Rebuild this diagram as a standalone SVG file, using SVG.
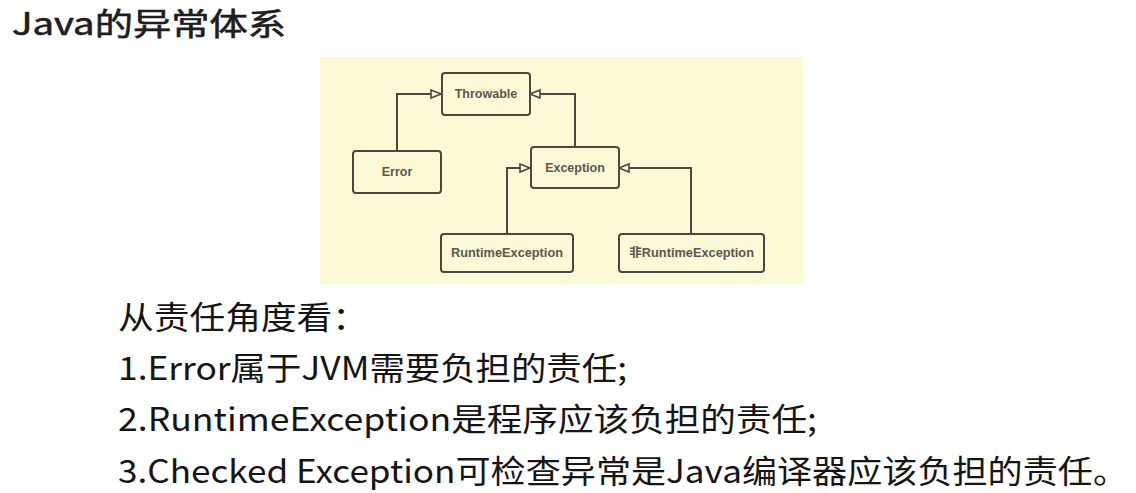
<svg xmlns="http://www.w3.org/2000/svg" width="1136" height="493" viewBox="0 0 1136 493">
<style>
.title{font-family:"Noto Sans CJK SC","Noto Sans",sans-serif;font-size:31px;fill:#1e1e1e;stroke:#1e1e1e;stroke-width:0.6;font-weight:normal}
.body{font-family:"Noto Sans CJK SC","Noto Sans",sans-serif;font-size:32px;fill:#151515}
.box{fill:#fcf9d6;stroke:#4a4840;stroke-width:2}
.lbl{font-family:"Liberation Sans",Arial,"Noto Sans CJK SC",sans-serif;font-size:12.5px;font-weight:bold;fill:#5a5750;text-anchor:middle;dominant-baseline:central}
.edge{fill:none;stroke:#4a4840;stroke-width:2}
</style>
<defs>
<marker id="tri" markerUnits="userSpaceOnUse" markerWidth="14" markerHeight="12" refX="11" refY="5" orient="auto">
<path d="M1,1 L11,5 L1,9 Z" fill="#fcf9d6" stroke="#4a4840" stroke-width="1.6"/>
</marker>
</defs>
<rect width="1136" height="493" fill="#ffffff"/>
<text class="title" x="12" y="35" textLength="274" lengthAdjust="spacingAndGlyphs">Java的异常体系</text>
<rect x="320" y="57" width="483" height="227" fill="#fcf9d6"/>
<g id="connectors">
<path class="edge" d="M397,151 L397,94 L441,94" marker-end="url(#tri)"/>
<path class="edge" d="M575,147 L575,94 L530,94" marker-end="url(#tri)"/>
<path class="edge" d="M507,234 L507,168 L530,168" marker-end="url(#tri)"/>
<path class="edge" d="M691,234 L691,168 L619,168" marker-end="url(#tri)"/>
</g>
<g id="throwable"><rect class="box" x="442" y="73" width="88" height="42" rx="3"/><text class="lbl" x="486" y="94">Throwable</text></g>
<g id="error"><rect class="box" x="353" y="151" width="88" height="42" rx="3"/><text class="lbl" x="397" y="172">Error</text></g>
<g id="exception"><rect class="box" x="531" y="147" width="88" height="41" rx="3"/><text class="lbl" x="575" y="168">Exception</text></g>
<g id="runtime"><rect class="box" x="441" y="234" width="132" height="38" rx="3"/><text class="lbl" x="507" y="253" textLength="112" lengthAdjust="spacingAndGlyphs">RuntimeException</text></g>
<g id="nonruntime"><rect class="box" x="619" y="234" width="145" height="38" rx="3"/><text class="lbl" x="691.5" y="253" textLength="125" lengthAdjust="spacingAndGlyphs">非RuntimeException</text></g>
<g id="body">
<text class="body" x="118" y="329" textLength="250" lengthAdjust="spacingAndGlyphs">从责任角度看：</text>
<text class="body" x="118" y="380" textLength="509" lengthAdjust="spacingAndGlyphs">1.Error属于JVM需要负担的责任;</text>
<text class="body" x="118" y="431" textLength="699" lengthAdjust="spacingAndGlyphs">2.RuntimeException是程序应该负担的责任;</text>
<text class="body" x="118" y="483" textLength="1010" lengthAdjust="spacingAndGlyphs">3.Checked Exception可检查异常是Java编译器应该负担的责任。</text>
</g>
</svg>
